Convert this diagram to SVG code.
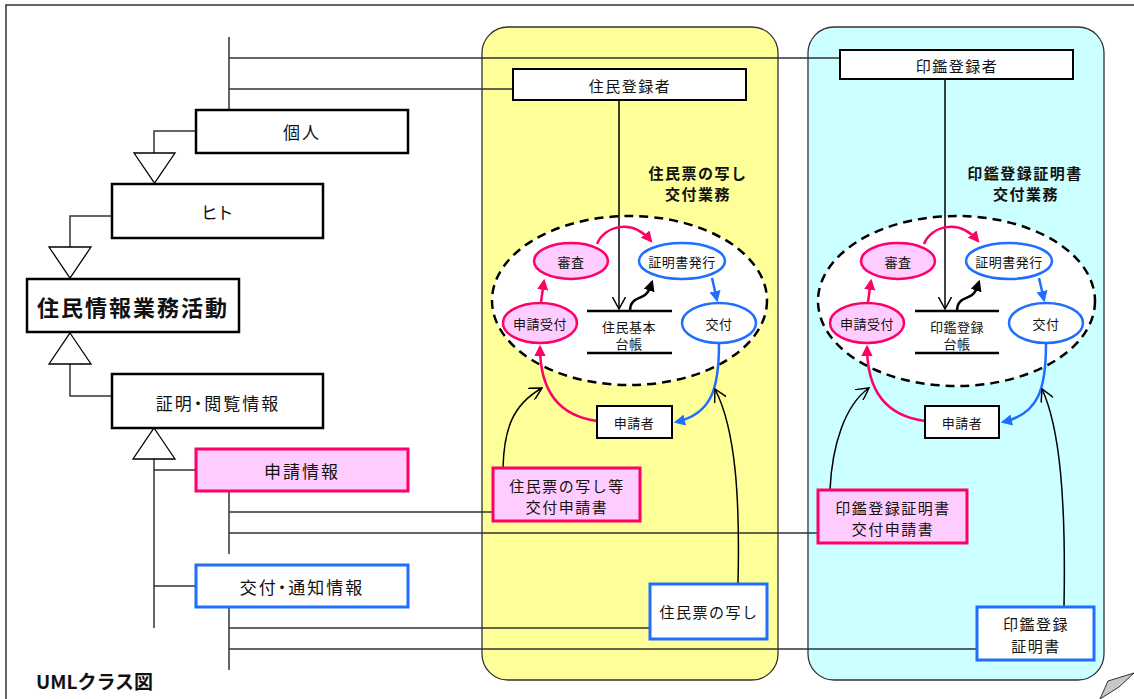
<svg xmlns="http://www.w3.org/2000/svg" width="1134" height="699" viewBox="0 0 1134 699">
<style>
text{font-family:"Noto Sans CJK JP","Noto Sans",sans-serif;fill:#111;text-anchor:middle;dominant-baseline:central}
.box{fill:#fff;stroke:#000;stroke-width:2.5}
.pbox{fill:#FFCCFF;stroke:#FF0066;stroke-width:3}
.bbox{fill:#fff;stroke:#1E6EFF;stroke-width:3}
.sbox{fill:#fff;stroke:#000;stroke-width:2}
.ln{fill:none;stroke:#333;stroke-width:1.5}
.tri{fill:#fff;stroke:#000;stroke-width:1.3}
.pe{fill:#FFCCFF;stroke:#FF0066;stroke-width:2.5}
.be{fill:#fff;stroke:#1E6EFF;stroke-width:2.5}
.pa{fill:none;stroke:#FF0066;stroke-width:2.5;marker-end:url(#ap)}
.ba{fill:none;stroke:#1E6EFF;stroke-width:2.5;marker-end:url(#ab)}
.ka{fill:none;stroke:#000;stroke-width:2.5;marker-end:url(#ak)}
.oa{fill:none;stroke:#000;stroke-width:1.5;marker-end:url(#ao)}
.t15{font-size:17px;letter-spacing:2px;font-feature-settings:"palt"}
.t13{font-size:13px;letter-spacing:0.5px}
.t14{font-size:15px;letter-spacing:1.5px}
.tb{font-size:15px;font-weight:bold;letter-spacing:1.5px}
</style>
<defs>
<marker id="ap" viewBox="0 0 10 10" refX="8" refY="5" markerWidth="4.5" markerHeight="4.5" orient="auto" markerUnits="strokeWidth"><path d="M0,0 L10,5 L0,10 z" fill="#FF0066"/></marker>
<marker id="ab" viewBox="0 0 10 10" refX="8" refY="5" markerWidth="4.5" markerHeight="4.5" orient="auto" markerUnits="strokeWidth"><path d="M0,0 L10,5 L0,10 z" fill="#1E6EFF"/></marker>
<marker id="ak" viewBox="0 0 10 10" refX="8" refY="5" markerWidth="4.5" markerHeight="4.5" orient="auto" markerUnits="strokeWidth"><path d="M0,0 L10,5 L0,10 z" fill="#000"/></marker>
<marker id="ao" viewBox="0 0 12 12" refX="11" refY="6" markerWidth="9" markerHeight="9" orient="auto" markerUnits="strokeWidth"><path d="M0,0 L11,6 L0,12" fill="none" stroke="#000" stroke-width="1.3"/></marker>
</defs>
<rect width="1134" height="699" fill="#fff"/>
<path d="M6,699 L6,5 L1134,5" fill="none" stroke="#333" stroke-width="1.5"/>
<polygon points="1108,681 1134,673 1119,687 1100,699" fill="#c8c8c8" stroke="#333" stroke-width="1"/>

<g id="panel-juminhyo">
<rect x="482" y="27" width="296" height="653" rx="26" fill="#FFFF99" stroke="#333" stroke-width="1.3"/>
<text class="tb" x="698" y="172">住民票の写し</text>
<text class="tb" x="698" y="193">交付業務</text>
<ellipse cx="629.5" cy="300.5" rx="137.5" ry="84.5" fill="#fff" stroke="#000" stroke-width="2.5" stroke-dasharray="9 6"/>
</g>
<g id="panel-inkan">
<rect x="808" y="27" width="296" height="653" rx="26" fill="#CCFFFF" stroke="#333" stroke-width="1.3"/>
<text class="tb" x="1025" y="172">印鑑登録証明書</text>
<text class="tb" x="1026" y="193">交付業務</text>
<ellipse cx="956.5" cy="301" rx="138.5" ry="85" fill="#fff" stroke="#000" stroke-width="2.5" stroke-dasharray="9 6"/>
</g>

<g id="connectors">
<path class="ln" d="M229,37 L229,110 M229,58 L840,58 M229,89 L513,89"/>
<path class="ln" d="M196,131 L154,131 L154,153"/>
<path class="ln" d="M112,216 L70,216 L70,247"/>
<path class="ln" d="M70,364 L70,396 L112,396"/>
<path class="ln" d="M154,459 L154,628 M154,470 L196,470 M154,586 L196,586"/>
<path class="ln" d="M229,491 L229,554 M229,512 L493,512 M229,533 L818,533"/>
<path class="ln" d="M229,607 L229,670 M229,628 L650,628 M229,649 L977,649"/>
<polygon class="tri" points="134,153 175,153 154.5,183"/>
<polygon class="tri" points="49,247 91,247 70,278"/>
<polygon class="tri" points="70,333 91,364 49,364"/>
<polygon class="tri" points="154,428 175,459 133,459"/>
<path class="oa" d="M619,100 L619,309"/>
<path class="pa" d="M597,244 C604,226 632,218 651,241"/>
<path class="pa" d="M541,302 L544,281"/>
<path class="ba" d="M712,278 L717,300"/>
<path class="ka" d="M630,311 C630,298 640,299 645,295 C650,291 650,288 652,282"/>
<path class="ba" d="M719,344 C719,388 712,414 676,422"/>
<path class="pa" d="M597,421 C560,416 540,392 540,347"/>
<path class="oa" d="M503,468 C504,430 512,405 542,388"/>
<path class="oa" d="M738,584 C740,500 736,430 715,389"/>
<path class="oa" d="M945,79 L945,309"/>
<path class="pa" d="M924,244 C931,226 959,218 978,241"/>
<path class="pa" d="M868,302 L871,281"/>
<path class="ba" d="M1039,278 L1044,300"/>
<path class="ka" d="M957,311 C957,298 967,299 972,295 C977,291 977,288 979,282"/>
<path class="ba" d="M1046,344 C1046,388 1039,414 1003,422"/>
<path class="pa" d="M925,421 C887,416 867,392 867,347"/>
<path class="oa" d="M830,490 C832,445 845,405 869,388"/>
<path class="oa" d="M1064,607 C1066,500 1060,428 1042,389"/>
</g>

<g id="kojin"><rect class="box" x="196" y="110" width="212" height="43"/><text class="t15" x="302" y="131">個人</text></g>
<g id="hito"><rect class="box" x="112" y="184" width="211" height="54"/><text class="t15" x="218" y="211">ヒト</text></g>
<g id="jumin-gyomu"><rect class="box" x="27" y="279" width="212" height="53"/><text x="133" y="306" style="font-size:22px;font-weight:bold;letter-spacing:2px">住民情報業務活動</text></g>
<g id="shomei-etsuran"><rect class="box" x="112" y="374" width="211" height="54"/><text class="t15" x="218" y="402">証明・閲覧情報</text></g>
<g id="shinsei-joho"><rect class="pbox" x="196" y="449" width="212" height="42"/><text class="t15" x="302" y="470">申請情報</text></g>
<g id="kofu-joho"><rect class="bbox" x="196" y="565" width="212" height="42"/><text class="t15" x="302" y="586">交付・通知情報</text></g>

<g id="jumin-tourokusha"><rect class="sbox" x="513" y="69" width="233" height="31"/><text class="t14" x="630" y="85">住民登録者</text></g>
<g id="inkan-tourokusha"><rect class="sbox" x="840" y="50" width="233" height="29"/><text class="t14" x="957" y="65">印鑑登録者</text></g>

<g id="y-shinsa"><ellipse class="pe" cx="571" cy="261" rx="37" ry="18"/><text class="t13" x="571" y="261">審査</text></g>
<g id="y-hakko"><ellipse class="be" cx="682" cy="261" rx="43" ry="18"/><text class="t13" x="682" y="261">証明書発行</text></g>
<g id="y-uketsuke"><ellipse class="pe" cx="540" cy="323" rx="37" ry="20"/><text class="t13" x="540" y="323">申請受付</text></g>
<g id="y-kofu"><ellipse class="be" cx="719" cy="323" rx="37" ry="20"/><text class="t13" x="719" y="323">交付</text></g>
<g id="y-daicho"><path d="M587,311 L672,311 M587,353 L672,353" stroke="#000" stroke-width="2.5"/><text class="t13" x="629" y="326">住民基本</text><text class="t13" x="629" y="343">台帳</text></g>
<g id="y-shinseisha"><rect class="sbox" x="597" y="406" width="75" height="32"/><text class="t13" x="634" y="422">申請者</text></g>
<g id="y-shinseisho"><rect class="pbox" x="493" y="468" width="147" height="53"/><text class="t14" x="567" y="485">住民票の写し等</text><text class="t14" x="567" y="506">交付申請書</text></g>
<g id="y-utsushi"><rect class="bbox" x="650" y="584" width="117" height="55"/><text class="t14" x="709" y="611">住民票の写し</text></g>

<g id="c-shinsa"><ellipse class="pe" cx="898" cy="261" rx="37" ry="18"/><text class="t13" x="898" y="261">審査</text></g>
<g id="c-hakko"><ellipse class="be" cx="1009" cy="261" rx="43" ry="18"/><text class="t13" x="1009" y="261">証明書発行</text></g>
<g id="c-uketsuke"><ellipse class="pe" cx="867" cy="323" rx="37" ry="20"/><text class="t13" x="867" y="323">申請受付</text></g>
<g id="c-kofu"><ellipse class="be" cx="1046" cy="323" rx="37" ry="20"/><text class="t13" x="1046" y="323">交付</text></g>
<g id="c-daicho"><path d="M915,311 L999,311 M915,353 L999,353" stroke="#000" stroke-width="2.5"/><text class="t13" x="957" y="326">印鑑登録</text><text class="t13" x="957" y="343">台帳</text></g>
<g id="c-shinseisha"><rect class="sbox" x="925" y="406" width="74" height="32"/><text class="t13" x="962" y="422">申請者</text></g>
<g id="c-shinseisho"><rect class="pbox" x="818" y="490" width="149" height="53"/><text class="t14" x="893" y="507">印鑑登録証明書</text><text class="t14" x="893" y="528">交付申請書</text></g>
<g id="c-shomeisho"><rect class="bbox" x="977" y="607" width="117" height="53"/><text class="t14" x="1036" y="623">印鑑登録</text><text class="t14" x="1036" y="645">証明書</text></g>

<text x="36" y="680" style="font-size:19px;font-weight:bold;text-anchor:start">UMLクラス図</text>
</svg>
